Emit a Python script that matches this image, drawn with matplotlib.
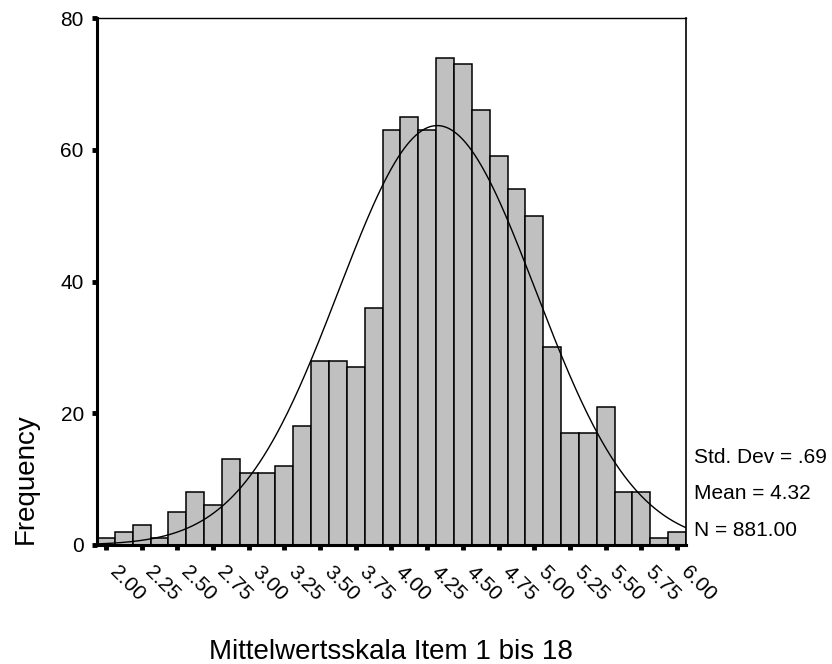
import numpy as np
import matplotlib
matplotlib.use("Agg")
import matplotlib.pyplot as plt

plt.rcParams['font.family'] = ['Liberation Sans', 'DejaVu Sans']

# Klassenmitten (Breite 0.125) und Häufigkeiten
bin_centers = [2.00, 2.125, 2.25, 2.375, 2.50, 2.625, 2.75, 2.875, 3.00, 3.125,
               3.25, 3.375, 3.50, 3.625, 3.75, 3.875, 4.00, 4.125, 4.25, 4.375,
               4.50, 4.625, 4.75, 4.875, 5.00, 5.125, 5.25, 5.375, 5.50, 5.625,
               5.75, 5.875, 6.00]
counts = [1, 2, 3, 1, 5, 8, 6, 13, 11, 11,
          12, 18, 28, 28, 27, 36, 63, 65, 63, 74,
          73, 66, 59, 54, 50, 30, 17, 17, 21, 8,
          8, 1, 2]
bin_width = 0.125

# Kennwerte
std_dev = 0.69
mean = 4.32
n = 881.00

tick_vals = [2.00, 2.25, 2.50, 2.75, 3.00, 3.25, 3.50, 3.75, 4.00, 4.25,
             4.50, 4.75, 5.00, 5.25, 5.50, 5.75, 6.00]
tick_labels = ["2.00", "2.25", "2.50", "2.75", "3.00", "3.25", "3.50", "3.75", "4.00",
               "4.25", "4.50", "4.75", "5.00", "5.25", "5.50", "5.75", "6.00"]
y_ticks = [0, 20, 40, 60, 80]

fig = plt.figure(figsize=(8.32, 6.64), dpi=100)
ax = fig.add_axes([97/832, 1-545/664, (686-97)/832, (545-18)/664])

ax.bar(bin_centers, counts, width=bin_width, color='#c0c0c0',
       edgecolor='black', linewidth=1.1, zorder=2)

# Normalverteilungskurve
x_min = bin_centers[0] - bin_width/2
x_max = bin_centers[-1] + bin_width/2
xs = np.linspace(x_min, x_max, 400)
ys = n * bin_width / (std_dev*np.sqrt(2*np.pi)) * np.exp(-0.5*((xs-mean)/std_dev)**2)
ax.plot(xs, ys, color='black', linewidth=1.0, zorder=3)

ax.set_xlim(x_min, x_max)
ax.set_ylim(0, 80)

ax.set_yticks(y_ticks)
ax.set_yticklabels([str(v) for v in y_ticks], fontsize=15)
ax.set_xticks(tick_vals)
ax.set_xticklabels(tick_labels, fontsize=15, rotation=-45, ha='left', va='top')

ax.tick_params(axis='both', direction='out', length=3.5, width=3.5, color='black')
ax.tick_params(axis='x', pad=9)
ax.tick_params(axis='y', pad=6)

ax.spines['left'].set_linewidth(2.2)
ax.spines['bottom'].set_linewidth(2.2)
ax.spines['top'].set_linewidth(1.0)
ax.spines['right'].set_linewidth(1.2)

fig.text(25.5/832, 1-478.7/664, "Frequency", rotation=90, ha='center', va='center', fontsize=20)
fig.text(390.5/832, 1-659/664, "Mittelwertsskala Item 1 bis 18", ha='center', va='baseline', fontsize=20)

fig.text(694/832, 1-463/664, "Std. Dev = .69", ha='left', va='baseline', fontsize=15)
fig.text(694/832, 1-499/664, "Mean = 4.32", ha='left', va='baseline', fontsize=15)
fig.text(694/832, 1-536.5/664, "N = 881.00", ha='left', va='baseline', fontsize=15)

fig.savefig("out.png", dpi=100)
